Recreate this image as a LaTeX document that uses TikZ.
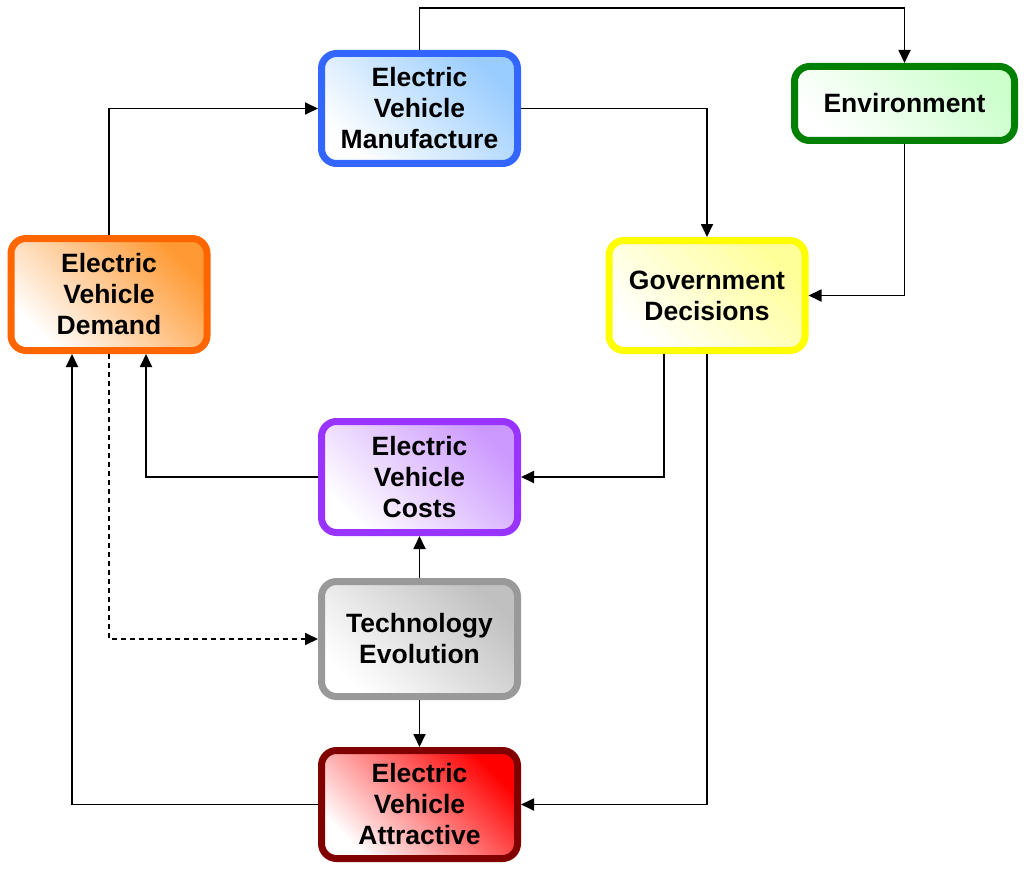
\documentclass[tikz,border=0pt]{standalone}
\usepackage{fontspec}
\setmainfont{Liberation Sans}
\usetikzlibrary{arrows.meta}
\definecolor{manB}{HTML}{3366FF}\definecolor{manF}{HTML}{99CCFF}
\definecolor{envB}{HTML}{008000}\definecolor{envF}{HTML}{CCFFCC}
\definecolor{demB}{HTML}{FF6600}\definecolor{demF}{HTML}{FF9933}
\definecolor{govB}{HTML}{FFFF00}\definecolor{govF}{HTML}{FFFF99}
\definecolor{cosB}{HTML}{9933FF}\definecolor{cosF}{HTML}{CC99FF}
\definecolor{tecB}{HTML}{999999}\definecolor{tecF}{HTML}{C0C0C0}
\definecolor{attB}{HTML}{800000}\definecolor{attF}{HTML}{FF0000}
\begin{document}
\begin{tikzpicture}[x=1pt,y=-1pt,
  box/.style={rectangle, rounded corners=15pt, line width=7pt,
    minimum width=196pt, minimum height=110pt, align=center,
    font=\fontsize{26.5}{31}\selectfont\bfseries, text=black},
  sbox/.style 2 args={box, draw=#1, top color=#2, bottom color=white, shading angle=-45},
  arr/.style={line width=1.8pt, -{Triangle[length=13pt,width=12pt]}}]
\useasboundingbox (0,0) rectangle (1024,869);
\node[sbox={manB}{manF}] (man) at (419.5,108.5) {Electric\\Vehicle\\Manufacture};
\node[sbox={envB}{envF}, minimum width=220pt, minimum height=74pt] (env) at (904.5,103.5) {Environment};
\node[sbox={demB}{demF}, minimum height=112pt] (dem) at (109,294.5) {Electric\\Vehicle\\Demand};
\node[sbox={govB}{govF}] (gov) at (707,295.5) {Government\\Decisions};
\node[sbox={cosB}{cosF}, minimum height=111pt] (cost) at (419.5,477) {Electric\\Vehicle\\Costs};
\node[sbox={tecB}{tecF}, minimum height=115pt] (tech) at (419.5,639) {Technology\\Evolution};
\node[sbox={attB}{attF}, minimum height=108pt] (att) at (419.5,804.5) {Electric\\Vehicle\\Attractive};
\coordinate (topy) at (0,8);
\draw[arr] (man.north) -- (man.north |- topy) -| (env.north);
\draw[arr] (dem.north) |- (man.west);
\draw[arr] (man.east) -| (gov.north);
\draw[arr] (env.south) |- (gov.east);
\draw[arr] ([xshift=-43pt]gov.south) |- (cost.east);
\draw[arr] (gov.south) |- (att.east);
\draw[arr] (cost.west) -| ([xshift=37pt]dem.south);
\draw[arr] (tech.north) -- (cost.south);
\draw[arr] (tech.south) -- (att.north);
\draw[arr] (att.west) -| ([xshift=-37pt]dem.south);
\draw[arr, dash pattern=on 5pt off 4pt] (dem.south) |- (tech.west);
\end{tikzpicture}
\end{document}
